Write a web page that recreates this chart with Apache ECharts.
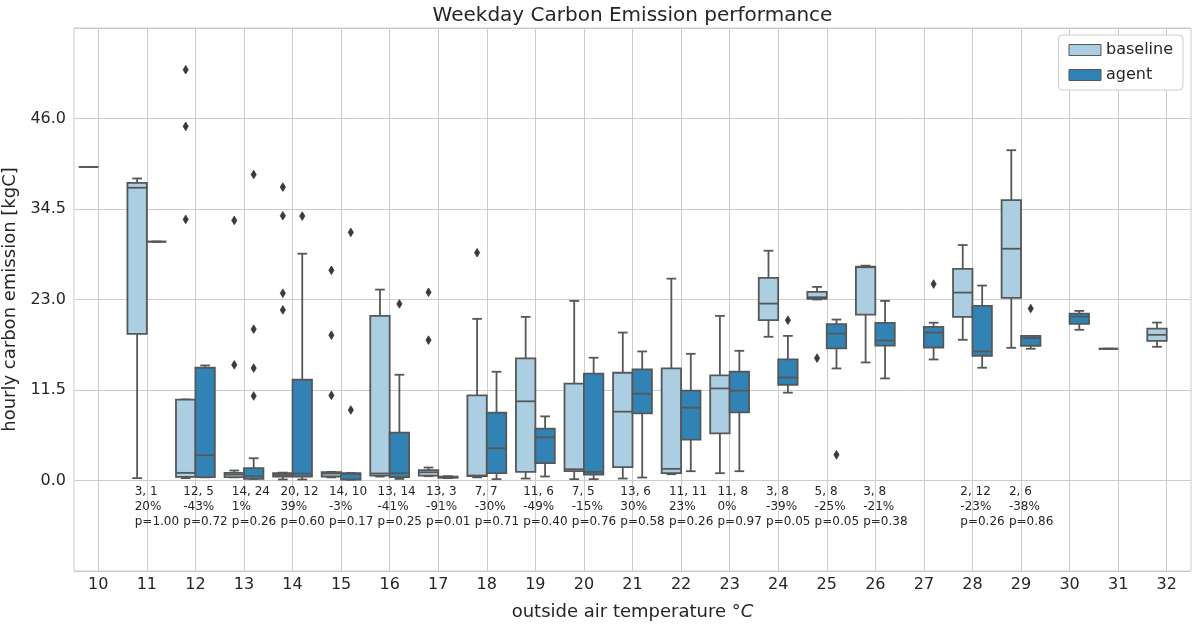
<!DOCTYPE html>
<html><head><meta charset="utf-8">
<script src="https://cdn.jsdelivr.net/npm/echarts@6/dist/echarts.min.js"></script>
<style>html,body{margin:0;padding:0;background:#fff}#main{width:1197px;height:629px}</style>
</head><body><div id="main"></div>
<script>
const categories = ['10','11','12','13','14','15','16','17','18','19','20','21','22','23','24','25','26','27','28','29','30','31','32'];
const yTicks = [0, 11.5, 23, 34.5, 46];

// baseline box stats per category (null = no data)
const baselineMin = [39.85, 0.3, 0.3, 0.4, 0.13, 0.4, 0.5, 0.55, 0.4, 0.25, 0.17, 0.25, 0.8, 0.93, 18.26, 23.0, 15.0, null, 17.88, 16.86, null, 16.74, 16.99];
const baselineQ1  = [39.85, 18.64, 0.47, 0.42, 0.51, 0.51, 0.63, 0.63, 0.55, 1.1, 1.18, 1.69, 0.93, 6.0, 20.37, 23.08, 21.09, null, 20.79, 23.2, null, 16.74, 17.75];
const baselineMed = [39.85, 37.2, 0.97, 0.75, 0.7, 0.89, 0.89, 1.05, 0.63, 10.06, 1.43, 8.75, 1.48, 11.7, 22.48, 23.29, 27.1, null, 23.88, 29.45, null, 16.74, 18.51];
const baselineQ3  = [39.85, 37.83, 10.27, 0.97, 0.93, 1.06, 20.92, 1.31, 10.82, 15.51, 12.3, 13.69, 14.24, 13.35, 25.74, 23.96, 27.17, null, 26.88, 35.63, null, 16.74, 19.31];
const baselineMax = [39.85, 38.38, 10.3, 1.27, 1.0, 1.1, 24.26, 1.65, 20.54, 20.79, 22.82, 18.8, 25.65, 20.92, 29.2, 24.6, 27.3, null, 29.92, 41.97, null, 16.74, 20.07];

// agent box stats per category
const agentMin = [null, 30.35, 0.4, 0.2, 0.13, 0.1, 0.2, 0.3, 0.17, 0.51, 0.17, 0.38, 1.18, 1.18, 11.16, 14.24, 12.97, 15.38, 14.33, 16.74, 19.15, null, null];
const agentQ1  = [null, 30.35, 0.42, 0.2, 0.51, 0.13, 0.42, 0.35, 0.93, 2.2, 0.76, 8.54, 5.2, 8.66, 12.17, 16.78, 17.15, 16.9, 15.85, 17.12, 19.91, null, null];
const agentMed = [null, 30.35, 3.21, 0.55, 0.89, 0.85, 0.93, 0.42, 4.1, 5.49, 1.1, 11.03, 9.26, 11.41, 13.1, 18.68, 17.79, 18.8, 16.4, 18.09, 20.83, null, null];
const agentQ3  = [null, 30.35, 14.33, 1.56, 12.8, 0.93, 6.09, 0.5, 8.62, 6.59, 13.57, 14.11, 11.41, 13.82, 15.38, 19.87, 20.03, 19.53, 22.19, 18.38, 21.21, null, null];
const agentMax = [null, 30.35, 14.62, 2.83, 28.82, 0.95, 13.44, 0.55, 13.82, 8.15, 15.6, 16.4, 16.1, 16.48, 18.38, 20.45, 22.82, 20.05, 24.77, 18.38, 21.55, null, null];

// outliers: [category, value]
const baselineOutliers = [['12',52.2],['12',45.0],['12',33.18],['13',33.05],['13',14.7],['14',37.28],['14',33.64],['14',23.8],['14',21.68],['15',26.71],['15',18.47],['15',10.82],['17',23.92],['17',17.84],['18',28.95],['25',15.55]];
const agentOutliers = [['13',38.88],['13',19.23],['13',14.28],['13',10.74],['14',33.6],['15',31.53],['15',8.96],['16',22.44],['24',20.37],['25',3.26],['27',24.96],['29',21.85]];

// annotations per category
const annotCategories = ['11','12','13','14','15','16','17','18','19','20','21','22','23','24','25','26','28','29'];
const annotCounts = ['3, 1','12, 5','14, 24','20, 12','14, 10','13, 14','13, 3','7, 7','11, 6','7, 5','13, 6','11, 11','11, 8','3, 8','5, 8','3, 8','2, 12','2, 6'];
const annotPct = ['20%','-43%','1%','39%','-3%','-41%','-91%','-30%','-49%','-15%','30%','23%','0%','-39%','-25%','-21%','-23%','-38%'];
const annotP = ['p=1.00','p=0.72','p=0.26','p=0.60','p=0.17','p=0.25','p=0.01','p=0.71','p=0.40','p=0.76','p=0.58','p=0.26','p=0.97','p=0.05','p=0.05','p=0.38','p=0.26','p=0.86'];

const BASE_COLOR = '#abcee2';
const AGENT_COLOR = '#3183b6';
const EDGE = '#575757';
const TEXT = '#262626';
const FONT = '"DejaVu Sans", sans-serif';

function boxData(mn, q1, md, q3, mx) {
  const out = [];
  categories.forEach((c, i) => {
    if (mn[i] != null) out.push([i, mn[i], q1[i], md[i], q3[i], mx[i]]);
  });
  return out;
}

function boxRender(side) {
  return function (params, api) {
    const i = api.value(0);
    const bw = api.size([1, 0])[0];
    const c = api.coord([i, 0])[0];
    const w = 0.4 * bw;
    const x0 = side < 0 ? c - w : c;
    const xm = x0 + w / 2;
    const y = k => api.coord([i, api.value(k)])[1];
    const yMin = y(1), yQ1 = y(2), yMed = y(3), yQ3 = y(4), yMax = y(5);
    const fill = api.visual('color');
    const lw = 1.8;
    const capW = w / 4;
    const ls = {stroke: EDGE, lineWidth: lw};
    return {type: 'group', children: [
      {type: 'line', shape: {x1: xm, y1: yQ1, x2: xm, y2: yMin}, style: ls},
      {type: 'line', shape: {x1: xm, y1: yQ3, x2: xm, y2: yMax}, style: ls},
      {type: 'line', shape: {x1: xm - capW, y1: yMin, x2: xm + capW, y2: yMin}, style: ls},
      {type: 'line', shape: {x1: xm - capW, y1: yMax, x2: xm + capW, y2: yMax}, style: ls},
      {type: 'rect', shape: {x: x0, y: yQ3, width: w, height: yQ1 - yQ3}, style: {fill: fill, stroke: EDGE, lineWidth: lw}},
      {type: 'line', shape: {x1: x0, y1: yMed, x2: x0 + w, y2: yMed}, style: ls}
    ]};
  };
}

function outlierRender(side) {
  return function (params, api) {
    const bw = api.size([1, 0])[0];
    const p = api.coord([api.value(0), api.value(1)]);
    const cx = p[0] + side * 0.2 * bw;
    const cy = p[1];
    const hw = 2.6, hh = 4.3;
    return {type: 'polygon', shape: {points: [[cx, cy - hh], [cx + hw, cy], [cx, cy + hh], [cx - hw, cy]]},
      style: {fill: '#3a3a3a', stroke: '#3a3a3a', lineWidth: 0.8}};
  };
}

function annotRender(params, api) {
  const bw = api.size([1, 0])[0];
  const p = api.coord([api.value(0), api.value(1)]);
  const k = params.dataIndex;
  return {type: 'text', x: p[0] - 0.25 * bw, y: p[1],
    style: {text: annotCounts[k] + '\n' + annotPct[k] + '\n' + annotP[k], fill: TEXT,
      font: '12px ' + FONT, lineHeight: 15, align: 'left', verticalAlign: 'top'}};
}

const chart = echarts.init(document.getElementById('main'));
chart.setOption({
  animation: false,
  backgroundColor: '#ffffff',
  textStyle: {fontFamily: FONT, color: TEXT},
  graphic: [{type: 'text', x: 632.5, y: 6, style: {text: 'Weekday Carbon Emission performance', font: '20px ' + FONT, fill: TEXT, align: 'center', verticalAlign: 'top'}}],
  legend: {
    orient: 'vertical', right: 14, top: 35,
    data: [
      {name: 'baseline', icon: 'rect', itemStyle: {color: BASE_COLOR, borderColor: EDGE, borderWidth: 1}},
      {name: 'agent', icon: 'rect', itemStyle: {color: AGENT_COLOR, borderColor: EDGE, borderWidth: 1}}
    ],
    itemWidth: 32, itemHeight: 11, itemGap: 9,
    padding: [7, 10, 7, 10],
    borderColor: '#cccccc', borderWidth: 1, borderRadius: 4, backgroundColor: '#ffffff',
    textStyle: {fontSize: 16, color: TEXT, fontFamily: FONT}
  },
  grid: {left: 74, right: 6, top: 28, bottom: 58, show: true, borderColor: '#cccccc', borderWidth: 1,
    containLabel: false, outerBoundsMode: 'none'},
  xAxis: {
    type: 'category', data: categories, boundaryGap: true,
    name: 'outside air temperature °{i|C}', nameLocation: 'middle', nameGap: 32,
    nameTextStyle: {fontSize: 18, color: TEXT, rich: {i: {fontSize: 18, fontStyle: 'italic', color: TEXT}}},
    axisLine: {show: false}, axisTick: {show: false},
    axisLabel: {fontSize: 16, color: TEXT, margin: 6, interval: 0},
    splitLine: {show: true, alignWithLabel: true, interval: 0, lineStyle: {color: '#cccccc', width: 1}}
  },
  yAxis: {
    type: 'value', min: -11.5, max: 57.5, interval: 11.5,
    name: 'hourly carbon emission [kgC]', nameLocation: 'middle', nameGap: 46,
    nameTextStyle: {fontSize: 18, color: TEXT},
    axisLine: {show: false}, axisTick: {show: false},
    axisLabel: {fontSize: 16, color: TEXT, margin: 8,
      formatter: v => (yTicks.some(t => Math.abs(t - v) < 1e-6) ? v.toFixed(1) : '')},
    splitLine: {show: true, lineStyle: {color: '#cccccc', width: 1}}
  },
  series: [
    {name: 'baseline', type: 'custom', renderItem: boxRender(-1), itemStyle: {color: BASE_COLOR},
      encode: {x: 0, y: [1, 2, 3, 4, 5]}, data: boxData(baselineMin, baselineQ1, baselineMed, baselineQ3, baselineMax), z: 3},
    {name: 'agent', type: 'custom', renderItem: boxRender(1), itemStyle: {color: AGENT_COLOR},
      encode: {x: 0, y: [1, 2, 3, 4, 5]}, data: boxData(agentMin, agentQ1, agentMed, agentQ3, agentMax), z: 3},
    {name: 'baselineOut', type: 'custom', renderItem: outlierRender(-1), encode: {x: 0, y: 1},
      data: baselineOutliers.map(d => [categories.indexOf(d[0]), d[1]]), z: 4},
    {name: 'agentOut', type: 'custom', renderItem: outlierRender(1), encode: {x: 0, y: 1},
      data: agentOutliers.map(d => [categories.indexOf(d[0]), d[1]]), z: 4},
    {name: 'annotations', type: 'custom', renderItem: annotRender, encode: {x: 0, y: 1},
      data: annotCategories.map(c => [categories.indexOf(c), -0.5]), z: 5, silent: true}
  ]
});
</script>
</body></html>
